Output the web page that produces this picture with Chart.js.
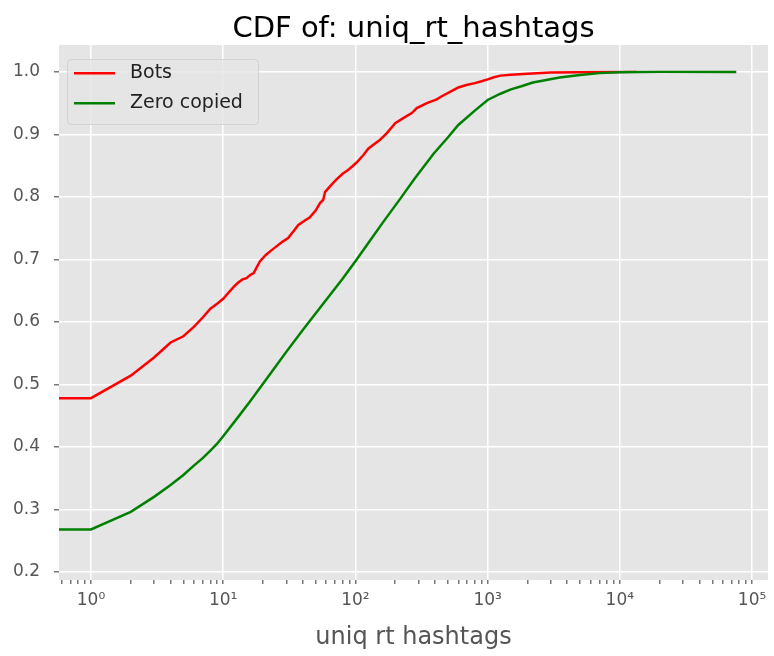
<!DOCTYPE html>
<html>
<head>
<meta charset="utf-8">
<title>CDF of: uniq_rt_hashtags</title>
<script src="https://cdn.jsdelivr.net/npm/chart.js@4.4.1/dist/chart.umd.min.js"></script>
<style>
  html, body { margin: 0; padding: 0; background: #fff; }
  #wrap { width: 774px; height: 656px; }
</style>
</head>
<body>
<div id="wrap"><canvas id="cdf" width="774" height="656"></canvas></div>
<script>
// zero counts sit left of the axis start (0.1), the way a clipped log plot shows them
const botsX = [0.1, 1, 2, 3, 4, 5, 6, 7, 8, 9, 10, 11, 12, 13, 14, 15, 16, 17, 18, 19, 21, 23, 25, 28, 31, 34, 37, 42, 45, 50, 54, 57, 59, 65, 72, 80, 88, 95, 102, 115, 125, 140, 153, 173, 200, 230, 267, 291, 347, 412, 450, 520, 600, 690, 800, 900, 1000, 1100, 1250, 1500, 2000, 3000, 5000, 13400];
const botsY = [0.478, 0.478, 0.514, 0.543, 0.567, 0.577, 0.592, 0.607, 0.621, 0.629, 0.637, 0.647, 0.656, 0.663, 0.668, 0.670, 0.675, 0.678, 0.688, 0.697, 0.707, 0.714, 0.720, 0.728, 0.734, 0.745, 0.755, 0.763, 0.767, 0.778, 0.790, 0.795, 0.808, 0.818, 0.828, 0.837, 0.843, 0.849, 0.855, 0.867, 0.877, 0.885, 0.891, 0.902, 0.918, 0.926, 0.934, 0.942, 0.950, 0.956, 0.961, 0.968, 0.975, 0.979, 0.982, 0.985, 0.988, 0.991, 0.994, 0.9955, 0.997, 0.999, 0.9995, 1.0];

const zeroX = [0.1, 1, 2, 3, 4, 5, 6, 7, 8, 9, 10, 13, 16, 20, 25, 30, 40, 45, 60, 80, 100, 130, 160, 220, 280, 390, 500, 600, 800, 1000, 1250, 1500, 1800, 2200, 3500, 5000, 7000, 10000, 20000, 76000];
const zeroY = [0.268, 0.268, 0.296, 0.320, 0.339, 0.355, 0.370, 0.382, 0.394, 0.405, 0.417, 0.448, 0.473, 0.501, 0.529, 0.552, 0.587, 0.601, 0.635, 0.669, 0.697, 0.731, 0.758, 0.798, 0.829, 0.869, 0.895, 0.915, 0.938, 0.955, 0.965, 0.972, 0.977, 0.983, 0.991, 0.995, 0.998, 0.9995, 1.0, 1.0];

const xTickValues = [1, 10, 100, 1000, 10000, 100000];
const xTickLabels = ['10⁰', '10¹', '10²', '10³', '10⁴', '10⁵'];
const yTickValues = [0.2, 0.3, 0.4, 0.5, 0.6, 0.7, 0.8, 0.9, 1.0];

const FONT = "'DejaVu Sans', sans-serif";
const X_MIN = 0.573, X_MAX = 1.32e5;

function toPoints(xs, ys) {
  return xs.map((x, i) => ({ x: x, y: ys[i] }));
}

// title centred over the plot area rather than the whole canvas
const axesTitle = {
  id: "axesTitle",
  afterDraw(chart) {
    const { ctx, chartArea: a } = chart;
    ctx.save();
    ctx.font = "29px " + FONT;
    ctx.fillStyle = "#000";
    ctx.textAlign = "center";
    ctx.textBaseline = "alphabetic";
    ctx.fillText("CDF of: uniq_rt_hashtags", (a.left + a.right) / 2, 37);
    ctx.restore();
  }
};

// legend box in the top-left corner of the plot
const boxLegend = {
  id: "boxLegend",
  afterDatasetsDraw(chart) {
    const { ctx, chartArea } = chart;
    const x = chartArea.left + 8, y = chartArea.top + 14, w = 191, h = 65;
    ctx.save();
    ctx.beginPath();
    ctx.roundRect(x + 0.5, y + 0.5, w, h, 4);
    ctx.fillStyle = "rgba(229,229,229,0.8)";
    ctx.fill();
    ctx.strokeStyle = "rgba(204,204,204,0.8)";
    ctx.lineWidth = 1;
    ctx.stroke();
    ctx.font = "19px " + FONT;
    ctx.textBaseline = "middle";
    chart.data.datasets.forEach((ds, i) => {
      const ly = y + 14.3 + i * 30;
      ctx.beginPath();
      ctx.moveTo(x + 7, ly);
      ctx.lineTo(x + 48, ly);
      ctx.strokeStyle = ds.borderColor;
      ctx.lineWidth = 2.5;
      ctx.stroke();
      ctx.fillStyle = "#222";
      ctx.fillText(ds.label, x + 63, ly);
    });
    ctx.restore();
  }
};

// grey plot background
const plotBg = {
  id: "plotBg",
  beforeDraw(chart) {
    const { ctx, chartArea: a } = chart;
    ctx.save();
    ctx.fillStyle = "#E5E5E5";
    ctx.fillRect(a.left, a.top, a.right - a.left, a.bottom - a.top);
    ctx.restore();
  }
};

const ctx = document.getElementById("cdf").getContext("2d");
new Chart(ctx, {
  type: "line",
  data: {
    datasets: [
      {
        label: "Bots",
        data: toPoints(botsX, botsY),
        borderColor: "#FF0000",
        borderWidth: 2.5,
        pointRadius: 0,
        tension: 0,
        order: 1
      },
      {
        label: "Zero copied",
        data: toPoints(zeroX, zeroY),
        borderColor: "#008000",
        borderWidth: 2.5,
        pointRadius: 0,
        tension: 0,
        order: 0
      }
    ]
  },
  options: {
    responsive: false,
    animation: false,
    layout: { padding: { left: 0, right: 6, top: 45, bottom: 0 } },
    plugins: {
      legend: { display: false },
      tooltip: { enabled: false },
      title: { display: false }
    },
    scales: {
      x: {
        type: "logarithmic",
        min: X_MIN,
        max: X_MAX,
        border: { display: false },
        afterBuildTicks(axis) {
          const ticks = [];
          [0.1, 1, 10, 100, 1000, 10000, 100000].forEach(d => {
            for (let m = 1; m <= 9; m++) {
              const v = m * d;
              if (v >= X_MIN && v <= X_MAX) ticks.push({ value: v, major: m === 1 });
            }
          });
          axis.ticks = ticks;
        },
        afterFit(axis) { axis.height = 76; },
        grid: {
          color: c => (c.tick && xTickValues.includes(c.tick.value)) ? "#FFFFFF" : "rgba(0,0,0,0)",
          tickColor: "#777",
          lineWidth: 1.5,
          tickLength: 4,
          drawTicks: true
        },
        ticks: {
          autoSkip: false,
          maxRotation: 0,
          color: "#555",
          padding: 6,
          font: { family: FONT, size: 17 },
          callback: function (value) {
            const i = xTickValues.indexOf(value);
            return i >= 0 ? xTickLabels[i] : "";
          }
        },
        title: {
          display: true,
          text: "uniq rt hashtags",
          color: "#555",
          font: { family: FONT, size: 24 },
          padding: { top: 0, bottom: 4 }
        }
      },
      y: {
        min: 0.187,
        max: 1.043,
        border: { display: false },
        afterBuildTicks(axis) {
          axis.ticks = yTickValues.map(v => ({ value: v }));
        },
        afterFit(axis) { axis.width = 59; },
        grid: {
          color: "#FFFFFF",
          tickColor: "#777",
          lineWidth: 1.5,
          tickLength: 5
        },
        ticks: {
          color: "#555",
          padding: 14,
          font: { family: FONT, size: 17 },
          callback: v => v.toFixed(1)
        }
      }
    }
  },
  plugins: [plotBg, boxLegend, axesTitle]
});
</script>
</body>
</html>
